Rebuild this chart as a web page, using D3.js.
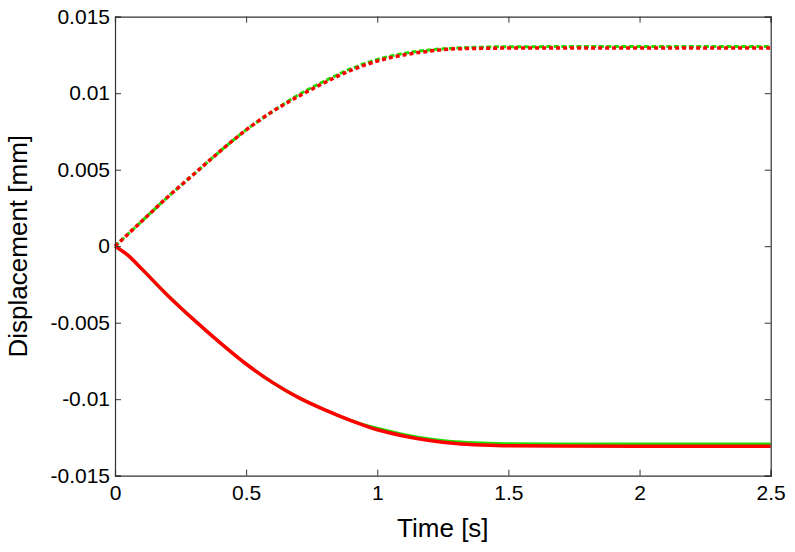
<!DOCTYPE html>
<html>
<head>
<meta charset="utf-8">
<script src="https://cdn.jsdelivr.net/npm/d3@7"></script>
<style>
  body { margin: 0; background: #fff; }
  text { font-family: "Liberation Sans", Arial, Helvetica, sans-serif; fill: #000; }
</style>
</head>
<body>
<svg id="chart" width="795" height="552"></svg>
<script>
// time samples [s]
const time = [0, 0.05, 0.1, 0.2, 0.3, 0.4, 0.5, 0.6, 0.7, 0.8, 0.9, 1.0, 1.1, 1.2, 1.3, 1.4, 1.5, 2.0, 2.5];

// displacement [mm]
const upperGreen = [0, 0.0008, 0.0016, 0.0032, 0.0047, 0.0062, 0.0076, 0.0088, 0.0099, 0.0108, 0.0116, 0.0122, 0.0126, 0.01283, 0.01295, 0.01301, 0.01304, 0.01305, 0.01305];
const upperRed   = [0, 0.0008, 0.0016, 0.0032, 0.0047, 0.0062, 0.0076, 0.0088, 0.0098, 0.0107, 0.0115, 0.0121, 0.0125, 0.01275, 0.0129, 0.01293, 0.01295, 0.01296, 0.01296];
const lowerGreen = [0, -0.0006, -0.00145, -0.0032, -0.0048, -0.0063, -0.0077, -0.0089, -0.0099, -0.0107, -0.0114, -0.0119, -0.0123, -0.0126, -0.01278, -0.01287, -0.01291, -0.01293, -0.01293];
const lowerRed   = [0, -0.0006, -0.00145, -0.0032, -0.0048, -0.0063, -0.0077, -0.0089, -0.0099, -0.0107, -0.0114, -0.0120, -0.0124, -0.0127, -0.0129, -0.01300, -0.01305, -0.01307, -0.01307];

// tick values
const xTicks = [0, 0.5, 1, 1.5, 2, 2.5];
const yTicks = [-0.015, -0.01, -0.005, 0, 0.005, 0.01, 0.015];

const W = 795, H = 552;
const margin = { top: 16.7, right: 24.3, bottom: 76.3, left: 115 };
const plotW = W - margin.left - margin.right;
const plotH = H - margin.top - margin.bottom;

const svg = d3.select("#chart");
const g = svg.append("g").attr("transform", `translate(${margin.left},${margin.top})`);

const x = d3.scaleLinear().domain([0, 2.5]).range([0, plotW]);
const y = d3.scaleLinear().domain([-0.015, 0.015]).range([plotH, 0]);

const fmt = (d) => String(+d.toFixed(4));
const axisColor = "#333";

// lines (green under red)
const line = d3.line().x((d) => x(d[0])).y((d) => y(d[1])).curve(d3.curveMonotoneX);
const series = [
  { vals: lowerGreen, color: "#22dd00", width: 3, dash: null },
  { vals: lowerRed, color: "#ff0000", width: 3.5, dash: null },
  { vals: upperGreen, color: "#22dd00", width: 3, dash: "5,2.5" },
  { vals: upperRed, color: "#ff0000", width: 3.5, dash: "4,3" }
];
series.forEach((s) => {
  g.append("path")
    .datum(time.map((t, i) => [t, s.vals[i]]))
    .attr("d", line)
    .attr("fill", "none")
    .attr("stroke", s.color)
    .attr("stroke-width", s.width)
    .attr("stroke-dasharray", s.dash);
});

// axes, MATLAB style: ticks inside, box all round
const axisBottomG = g.append("g")
  .attr("transform", `translate(0,${plotH})`)
  .call(d3.axisBottom(x).tickValues(xTicks).tickSize(-6).tickPadding(9).tickFormat(fmt));
const axisLeftG = g.append("g")
  .call(d3.axisLeft(y).tickValues(yTicks).tickSize(-6).tickPadding(5).tickFormat(fmt));
const axisTopG = g.append("g")
  .call(d3.axisTop(x).tickValues(xTicks).tickSize(-6).tickFormat(""));
const axisRightG = g.append("g")
  .attr("transform", `translate(${plotW},0)`)
  .call(d3.axisRight(y).tickValues(yTicks).tickSize(-6).tickFormat(""));

[axisBottomG, axisLeftG, axisTopG, axisRightG].forEach((a) => {
  a.select(".domain").attr("stroke", axisColor).attr("stroke-width", 1.2);
  a.selectAll(".tick line").attr("stroke", axisColor);
  a.selectAll(".tick text").attr("font-size", 21).attr("fill", "#000");
});

// axis labels
svg.append("text")
  .attr("x", margin.left + plotW / 2)
  .attr("y", 537)
  .attr("text-anchor", "middle")
  .attr("font-size", 26)
  .text("Time [s]");

svg.append("text")
  .attr("transform", `translate(27,${margin.top + plotH / 2}) rotate(-90)`)
  .attr("text-anchor", "middle")
  .attr("font-size", 26)
  .text("Displacement [mm]");
</script>
</body>
</html>
